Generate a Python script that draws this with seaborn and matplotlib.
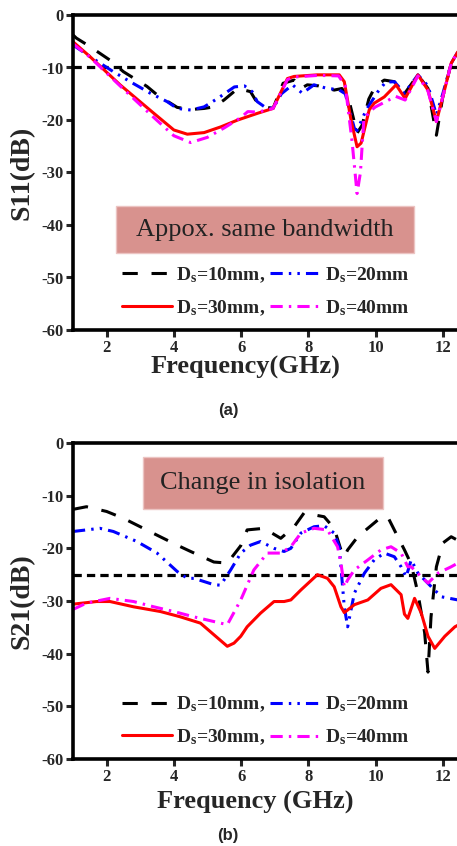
import numpy as np
import pandas as pd
import seaborn as sns
import matplotlib
matplotlib.use("Agg")
import matplotlib.pyplot as plt
from matplotlib.patches import Rectangle
from matplotlib.lines import Line2D

# ---------------- data ----------------
labels = ["D$_\\mathbf{s}$=10mm,", "D$_\\mathbf{s}$=20mm", "D$_\\mathbf{s}$=30mm,", "D$_\\mathbf{s}$=40mm"]

# (a) S11
s11_f_10 = [1.0, 1.1, 1.5, 2.1, 2.5, 3.2, 3.5, 4.1, 4.5, 4.9, 5.19, 5.49, 5.9, 6.28, 6.43, 6.7, 6.95, 7.25, 7.58, 7.78, 7.97, 8.3, 8.77, 9.0, 9.2, 9.45, 9.6, 9.8, 10.0, 10.26, 10.56, 10.86, 11.26, 11.56, 11.81, 12.0, 12.25, 12.45]
s11_v_10 = [-3.8, -4.4, -6.0, -8.6, -10.8, -13.6, -15.2, -17.6, -18.0, -17.8, -17.5, -16.2, -14.0, -14.6, -16.2, -17.5, -17.8, -13.0, -12.4, -14.0, -13.3, -13.5, -14.3, -14.0, -16.0, -22.5, -21.0, -16.0, -13.5, -12.4, -12.7, -15.0, -11.4, -14.0, -22.9, -15.6, -9.2, -7.0]

s11_f_20 = [1.0, 1.5, 2.2, 2.7, 3.3, 3.8, 4.1, 4.5, 4.9, 5.3, 5.8, 6.1, 6.33, 6.48, 6.7, 6.95, 7.2, 7.53, 7.82, 8.17, 8.57, 8.9, 9.1, 9.37, 9.45, 9.72, 10.07, 10.3, 10.56, 10.86, 11.26, 11.56, 11.81, 12.0, 12.25, 12.45]
s11_v_20 = [-5.7, -7.9, -10.8, -12.7, -14.9, -16.5, -17.8, -18.1, -17.5, -15.9, -13.7, -13.5, -14.6, -16.5, -17.5, -17.8, -15.0, -13.3, -14.9, -13.3, -14.0, -14.2, -15.0, -21.6, -22.0, -18.1, -14.6, -12.8, -12.7, -14.9, -11.4, -13.5, -19.0, -15.0, -9.2, -7.0]

s11_f_30 = [1.0, 1.5, 2.4, 3.4, 4.0, 4.4, 4.9, 5.4, 5.9, 6.5, 6.95, 7.38, 7.58, 8.27, 8.92, 9.07, 9.27, 9.45, 9.57, 9.81, 9.96, 10.26, 10.61, 10.88, 11.26, 11.56, 11.81, 12.0, 12.25, 12.45]
s11_v_30 = [-5.1, -7.9, -13.3, -18.7, -21.9, -22.7, -22.4, -21.3, -20.0, -18.7, -17.8, -12.1, -11.7, -11.4, -11.4, -12.7, -20.0, -25.1, -24.4, -18.1, -16.8, -15.6, -13.3, -15.9, -11.4, -14.3, -20.3, -15.6, -9.2, -7.0]

s11_f_40 = [1.0, 1.5, 2.4, 3.4, 4.0, 4.5, 5.0, 5.5, 6.0, 6.2, 6.5, 6.95, 7.38, 7.6, 8.3, 8.9, 9.1, 9.3, 9.45, 9.55, 9.65, 9.8, 10.0, 10.3, 10.6, 10.88, 11.26, 11.56, 11.81, 12.0, 12.25, 12.45]
s11_v_40 = [-5.5, -8.0, -13.5, -19.5, -23.0, -24.3, -23.3, -21.5, -19.5, -18.4, -18.5, -17.8, -12.3, -11.8, -11.5, -11.6, -13.5, -24.0, -34.0, -30.0, -20.0, -18.5, -17.5, -16.5, -15.5, -16.2, -11.6, -14.5, -20.3, -15.6, -9.2, -7.0]

# (b) S21
s21_f_10 = [1.0, 1.4, 2.0, 2.5, 3.0, 3.5, 4.1, 4.5, 5.19, 5.59, 5.99, 6.18, 6.68, 7.18, 7.58, 7.87, 8.47, 8.77, 8.97, 9.07, 9.17, 9.47, 10.07, 10.36, 10.66, 10.86, 11.06, 11.26, 11.46, 11.56, 11.65, 11.81, 12.0, 12.25, 12.45]
s21_v_10 = [-12.6, -12.1, -13.0, -14.3, -15.9, -17.5, -19.4, -20.6, -22.6, -22.8, -19.5, -16.5, -16.2, -18.1, -15.9, -13.3, -14.0, -16.2, -20.3, -21.6, -20.3, -17.8, -14.6, -14.0, -17.8, -20.3, -23.0, -28.5, -36.0, -43.5, -33.0, -23.5, -19.0, -17.8, -18.5]

s21_f_20 = [1.0, 1.8, 2.2, 2.9, 3.5, 4.1, 4.4, 4.6, 5.19, 5.39, 5.69, 5.99, 6.28, 6.58, 6.98, 7.28, 7.48, 7.78, 8.17, 8.47, 8.77, 8.92, 8.97, 9.07, 9.17, 9.37, 9.67, 9.96, 10.26, 10.56, 10.76, 10.91, 11.06, 11.26, 11.66, 11.96, 12.45]
s21_v_20 = [-16.8, -16.2, -16.8, -18.7, -20.9, -24.4, -25.7, -25.7, -26.9, -27.0, -24.1, -20.9, -19.4, -18.7, -20.0, -20.6, -20.0, -17.1, -15.9, -15.7, -17.1, -19.7, -23.5, -31.1, -34.9, -28.5, -24.7, -22.2, -20.9, -21.6, -23.5, -25.4, -22.2, -24.7, -27.3, -29.2, -29.8]

s21_f_30 = [1.0, 1.7, 2.1, 2.8, 3.6, 4.19, 4.79, 5.19, 5.59, 5.79, 5.99, 6.18, 6.58, 6.98, 7.28, 7.48, 7.78, 8.27, 8.57, 8.77, 8.97, 9.07, 9.37, 9.77, 10.16, 10.46, 10.76, 10.86, 10.96, 11.16, 11.36, 11.56, 11.76, 12.06, 12.36, 12.45]
s21_v_30 = [-30.6, -30.1, -30.1, -31.1, -32.0, -33.0, -34.2, -36.4, -38.6, -38.0, -36.7, -34.9, -32.3, -30.1, -30.1, -29.8, -27.9, -25.0, -25.7, -27.3, -31.1, -32.2, -30.7, -29.8, -27.6, -26.9, -28.8, -32.5, -33.3, -29.5, -32.3, -36.7, -39.0, -36.7, -34.9, -34.6]

s21_f_40 = [1.0, 1.4, 2.1, 2.8, 3.4, 4.0, 4.59, 5.19, 5.59, 5.99, 6.38, 6.78, 7.18, 7.48, 7.78, 8.17, 8.57, 8.87, 8.97, 9.07, 9.17, 9.37, 9.77, 10.16, 10.46, 10.76, 10.96, 11.06, 11.36, 11.56, 11.86, 12.25, 12.45]
s21_v_40 = [-31.6, -30.4, -29.5, -30.1, -31.1, -32.0, -33.0, -33.9, -34.5, -29.8, -24.1, -20.9, -20.9, -19.7, -17.1, -16.2, -16.5, -19.7, -22.8, -27.3, -26.0, -24.1, -22.2, -20.3, -19.7, -20.9, -23.5, -23.5, -25.4, -26.6, -24.7, -23.5, -22.8]

s11_ref = -10
s21_ref = -25
xticks = [2, 4, 6, 8, 10, 12]
yticks = [0, -10, -20, -30, -40, -50, -60]
note_a = "Appox. same bandwidth"
note_b = "Change in isolation"

# ---------------- style ----------------
sns.set_theme(style="white")
plt.rcParams["font.family"] = ["Liberation Serif", "DejaVu Serif"]
plt.rcParams["axes.unicode_minus"] = False
plt.rcParams["mathtext.fontset"] = "custom"
plt.rcParams["mathtext.rm"] = "Liberation Serif:bold"
plt.rcParams["mathtext.bf"] = "Liberation Serif:bold"
plt.rcParams["mathtext.it"] = "Liberation Serif:bold"

colors = ["black", "#0000ff", "#ff0000", "#ff00ff"]
styles = [(0, (5, 4.5)), (0, (4, 2, 0.8, 2, 0.8, 2)), "-", (0, (4, 2, 0.8, 2))]
LW = 2.2

fig = plt.figure(figsize=(4.57, 8.46), dpi=100)
W, H = 457, 846

def add_ax(top_px, bot_px):
    return fig.add_axes([73 / W, 1 - bot_px / H, 1 - 73 / W + 0.002, (bot_px - top_px) / H])

ax1 = add_ax(15, 330)
ax2 = add_ax(443, 759)

def draw(ax, series, ref, ylabel, xlabel, xlab_pos, note, box, leg_y):
    for (f, v), c, ls in zip(series, colors, styles):
        df = pd.DataFrame({"f": f, "v": v})
        sns.lineplot(data=df, x="f", y="v", ax=ax, color=c, linestyle=ls, lw=LW,
                     sort=False, estimator=None, legend=False)
    ax.axhline(ref, color="black", lw=2.3, linestyle=(0, (2.6, 1.6)), zorder=1)
    ax.set_xlim(1, 12.45)
    ax.set_ylim(-60, 0)
    ax.set_xticks(xticks)
    ax.set_yticks(yticks)
    ax.tick_params(axis="both", direction="out", length=5, width=2.2, labelsize=12,
                   bottom=True, left=True, top=False, right=False, pad=2)
    for lab in ax.get_xticklabels() + ax.get_yticklabels():
        lab.set_fontweight("bold")
    for s in ["left", "bottom", "top"]:
        ax.spines[s].set_linewidth(2.6)
        ax.spines[s].set_color("black")
    ax.spines["right"].set_visible(False)
    ax.grid(False)
    ax.set_ylabel(ylabel, fontsize=20, fontweight="bold")
    ax.yaxis.set_label_coords(-0.10, 0.5)
    ax.set_xlabel(xlabel, fontsize=19, fontweight="bold")
    ax.xaxis.set_label_coords(xlab_pos[0], xlab_pos[1])
    x0, x1, y0, y1 = box
    ax.add_patch(Rectangle((x0, y0), x1 - x0, y1 - y0, transform=ax.transAxes,
                           facecolor="#d8928e", edgecolor="#ecc4c2", lw=1, zorder=3))
    ax.text((x0 + x1) / 2, (y0 + y1) / 2, note, transform=ax.transAxes, ha="center",
            va="center", fontsize=19, color="#222222", zorder=4)
    handles = [Line2D([], [], color=c, linestyle=ls, lw=LW) for c, ls in zip(colors, styles)]
    order = [0, 2, 1, 3]
    leg = ax.legend([handles[i] for i in order], [labels[i] for i in order], ncol=2,
                    loc="center", bbox_to_anchor=(0.5, leg_y),
                    bbox_transform=ax.transAxes, frameon=False, handlelength=2.6,
                    handletextpad=0.2, columnspacing=0.25, labelspacing=0.68,
                    prop={"family": "Liberation Serif", "weight": "bold", "size": 14})

draw(ax1, [(s11_f_10, s11_v_10), (s11_f_20, s11_v_20), (s11_f_30, s11_v_30), (s11_f_40, s11_v_40)],
     s11_ref, "S11(dB)", "Frequency(GHz)", (0.448, -0.083), note_a,
     (0.112, 0.885, 0.244, 0.394), 0.122)
draw(ax2, [(s21_f_10, s21_v_10), (s21_f_20, s21_v_20), (s21_f_30, s21_v_30), (s21_f_40, s21_v_40)],
     s21_ref, "S21(dB)", "Frequency (GHz)", (0.474, -0.10), note_b,
     (0.182, 0.805, 0.791, 0.956), 0.121)

fig.text(228 / W, 1 - 410 / H, "(a)", ha="center", va="center", fontsize=12,
         fontweight="bold", family=["Liberation Sans", "DejaVu Sans"])
fig.text(228 / W, 1 - 835 / H, "(b)", ha="center", va="center", fontsize=12,
         fontweight="bold", family=["Liberation Sans", "DejaVu Sans"])

fig.savefig("out.png", dpi=100)
